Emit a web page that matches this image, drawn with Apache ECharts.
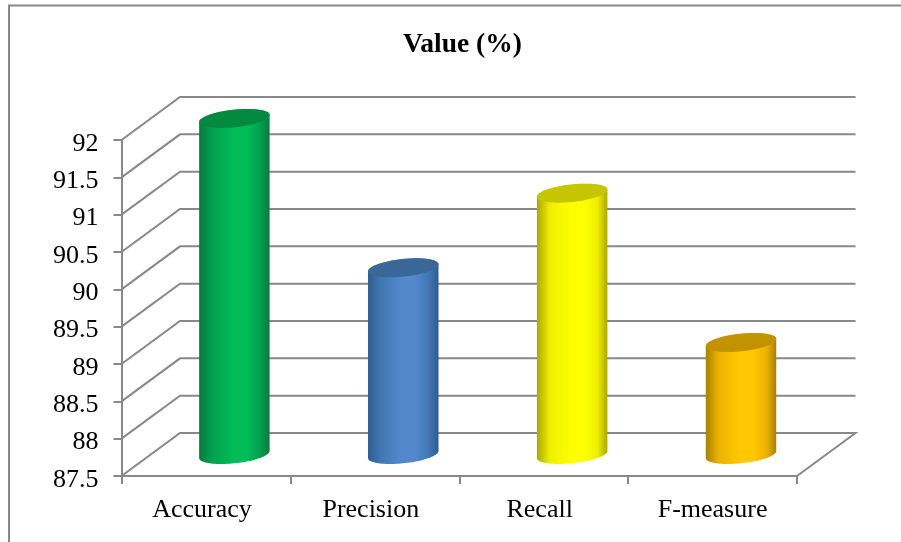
<!DOCTYPE html>
<html>
<head>
<meta charset="utf-8">
<title>Value (%)</title>
<style>
  html, body { margin: 0; padding: 0; background: #fff; }
  #chart { width: 901px; height: 542px; }
</style>
<script src="https://cdn.jsdelivr.net/npm/echarts@6/dist/echarts.min.js"></script>
</head>
<body>
<div id="chart"></div>
<script>
// Chart content
const chartTitle = 'Value (%)';
const categories = ['Accuracy', 'Precision', 'Recall', 'F-measure'];
const values = [92, 90, 91, 89];
const yTicks = [87.5, 88, 88.5, 89, 89.5, 90, 90.5, 91, 91.5, 92];

// Cylinder shading: side edge, shoulder, side centre, top cap
const edgeColors = ['#067C3F', '#2F5C8E', '#A9A900', '#A98000'];
const shoulderColors = ['#03A04E', '#4277B4', '#EEEE00', '#EBB300'];
const midColors = ['#00BC58', '#5389CC', '#FFFF00', '#FFC800'];
const capColors = ['#048A40', '#3A6796', '#C6C600', '#C39200'];

// Horizontal nudge of the category labels, in pixels of right padding
const labelPadding = [8, 8, 8, 0];

// Oblique projection of the chart box
const DEPTH_X = 58.5;
const DEPTH_Y = -43;
const LINE = '#888888';
const SERIF = '"Liberation Serif", "Times New Roman", serif';

// Tilted ellipse outline, from parameter t0 to t1
function ellipsePts(cx, cy, a, b, tilt, t0, t1, n) {
  const pts = [];
  for (let i = 0; i <= n; i++) {
    const t = t0 + (t1 - t0) * i / n;
    const px = a * Math.cos(t), py = b * Math.sin(t);
    pts.push([cx + px * Math.cos(tilt) - py * Math.sin(tilt),
              cy + px * Math.sin(tilt) + py * Math.cos(tilt)]);
  }
  return pts;
}

function renderWall(params, api) {
  const cs = params.coordSys;
  const p = api.coord([0, api.value(0)]);
  const y = p[1];
  const pts = [[cs.x, y], [cs.x + DEPTH_X, y + DEPTH_Y], [cs.x + cs.width + DEPTH_X, y + DEPTH_Y]];
  if (params.dataIndex === 0) pts.push([cs.x + cs.width, y]);
  return {
    type: 'polyline',
    shape: { points: pts },
    style: { stroke: LINE, lineWidth: 2, fill: null }
  };
}

function renderCylinder(params, api) {
  const i = params.dataIndex;
  const top = api.coord([api.value(0), api.value(1)]);
  const base = api.coord([api.value(0), yTicks[0]]);
  const band = api.size([1, 0])[0];
  const halfW = band * 0.2085;
  const a = halfW * 1.006, b = halfW * 0.25, tilt = -6.1 * Math.PI / 180;
  const cx = top[0] + DEPTH_X / 2 - 0.8;
  const topY = top[1] + DEPTH_Y / 2;
  const baseY = base[1] + DEPTH_Y / 2;
  // Angle where the tilted ellipse reaches its horizontal extremes
  const tx = Math.atan2(-b * Math.sin(tilt), a * Math.cos(tilt));
  const lowerArc = ellipsePts(cx, baseY, a, b, tilt, Math.PI + tx, tx, 48);
  const upperArc = ellipsePts(cx, topY, a, b, tilt, tx, -Math.PI + tx, 48);
  const body = lowerArc.concat(upperArc);
  const gradient = {
    type: 'linear', x: 0, y: 0, x2: 1, y2: 0,
    colorStops: [
      { offset: 0, color: edgeColors[i] },
      { offset: 0.18, color: shoulderColors[i] },
      { offset: 0.48, color: midColors[i] },
      { offset: 0.68, color: midColors[i] },
      { offset: 0.86, color: shoulderColors[i] },
      { offset: 1, color: edgeColors[i] }
    ]
  };
  return {
    type: 'group',
    children: [
      { type: 'polygon', shape: { points: body }, style: { fill: gradient } },
      {
        type: 'polygon',
        shape: { points: ellipsePts(cx, topY, a, b, tilt, 0, Math.PI * 2, 96) },
        style: { fill: capColors[i] }
      }
    ]
  };
}

const chart = echarts.init(document.getElementById('chart'), null, { renderer: 'canvas' });
chart.setOption({
  animation: false,
  backgroundColor: '#ffffff',
  title: {
    text: chartTitle,
    left: 403,
    top: 26,
    padding: [5, 0, 5, 0],
    textStyle: { fontFamily: SERIF, fontSize: 27.5, fontWeight: 'bold', color: '#000' }
  },
  grid: { left: 121.5, top: 140, width: 675.5, height: 336, containLabel: false },
  xAxis: {
    type: 'category',
    data: categories.map((name, i) => ({
      value: name,
      textStyle: { padding: [0, labelPadding[i], 0, 0] }
    })),
    boundaryGap: true,
    axisLine: { show: true, lineStyle: { color: LINE, width: 2 } },
    axisTick: { show: true, alignWithLabel: false, length: 8, lineStyle: { color: LINE, width: 2 } },
    axisLabel: { fontFamily: SERIF, fontSize: 26, color: '#000', margin: 21 }
  },
  yAxis: {
    type: 'value',
    min: yTicks[0],
    max: yTicks[yTicks.length - 1],
    interval: 0.5,
    splitLine: { show: false },
    axisLine: { show: true, lineStyle: { color: LINE, width: 2 } },
    axisTick: { show: true, length: 8, lineStyle: { color: LINE, width: 2 } },
    axisLabel: {
      margin: 23,
      formatter: '{v|{value}}',
      rich: {
        v: { fontFamily: SERIF, fontSize: 26, color: '#000', padding: [8, 0, 0, 0] }
      }
    }
  },
  graphic: [{
    type: 'rect',
    silent: true,
    shape: { x: 9, y: 5.5, width: 1000, height: 1000 },
    style: { fill: null, stroke: LINE, lineWidth: 2 }
  }],
  series: [
    {
      type: 'custom',
      silent: true,
      z: 1,
      renderItem: renderWall,
      data: yTicks.map(v => [v]),
      encode: { y: 0 }
    },
    {
      type: 'custom',
      z: 5,
      renderItem: renderCylinder,
      data: values.map((v, i) => [i, v]),
      encode: { x: 0, y: 1 }
    }
  ]
});
</script>
</body>
</html>
